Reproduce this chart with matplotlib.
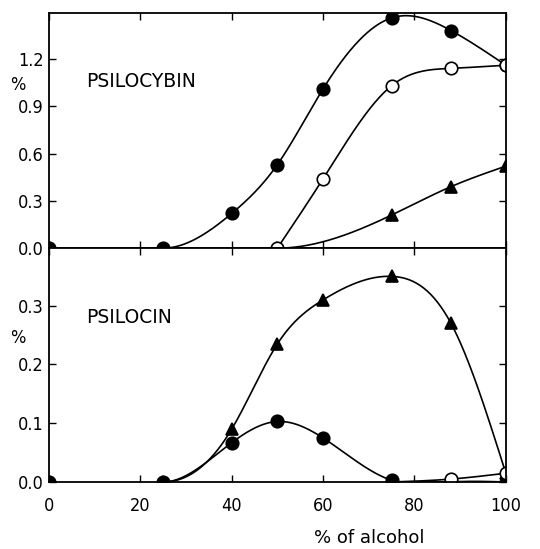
import numpy as np
import matplotlib
matplotlib.use('Agg')
from matplotlib import pyplot as plt

# Psilocybin (top panel)
ps_fill_x = [0, 25, 40, 50, 60, 75, 88, 100]
ps_fill_y = [0.0, 0.0, 0.22, 0.53, 1.01, 1.46, 1.38, 1.16]
ps_open_x = [50, 60, 75, 88, 100]
ps_open_y = [0.0, 0.44, 1.03, 1.14, 1.16]
ps_tri_x = [50, 75, 88, 100]
ps_tri_y = [0.0, 0.21, 0.39, 0.52]

# Psilocin (bottom panel)
pc_tri_x = [25, 40, 50, 60, 75, 88, 100]
pc_tri_y = [0.0, 0.09, 0.235, 0.31, 0.35, 0.27, 0.015]
pc_fill_x = [0, 25, 40, 50, 60, 75, 88, 100]
pc_fill_y = [0.0, 0.0, 0.067, 0.103, 0.075, 0.003, 0.0, 0.0]
pc_open_x = [75, 88, 100]
pc_open_y = [0.0, 0.005, 0.015]

x_ticks = [0, 20, 40, 60, 80, 100]
top_yticks = [0.0, 0.3, 0.6, 0.9, 1.2]
bot_yticks = [0.0, 0.1, 0.2, 0.3]

FONT = ['DejaVu Sans']
plt.rcParams['font.stretch'] = 'condensed'


def spline(x, y, d0=None, dn=None, n=300):
    # cubic spline, natural ends unless a slope is given
    x = np.asarray(x, float)
    y = np.asarray(y, float)
    N = len(x)
    h = np.diff(x)
    A = np.zeros((N, N))
    b = np.zeros(N)
    for i in range(1, N - 1):
        A[i, i - 1] = h[i - 1]
        A[i, i] = 2 * (h[i - 1] + h[i])
        A[i, i + 1] = h[i]
        b[i] = 6 * ((y[i + 1] - y[i]) / h[i] - (y[i] - y[i - 1]) / h[i - 1])
    if d0 is None:
        A[0, 0] = 1
    else:
        A[0, 0] = 2 * h[0]
        A[0, 1] = h[0]
        b[0] = 6 * ((y[1] - y[0]) / h[0] - d0)
    if dn is None:
        A[-1, -1] = 1
    else:
        A[-1, -2] = h[-1]
        A[-1, -1] = 2 * h[-1]
        b[-1] = 6 * (dn - (y[-1] - y[-2]) / h[-1])
    M = np.linalg.solve(A, b)
    xs = np.linspace(x[0], x[-1], n)
    i = np.clip(np.searchsorted(x, xs) - 1, 0, N - 2)
    t1 = x[i + 1] - xs
    t0 = xs - x[i]
    ys = (M[i] * t1 ** 3 + M[i + 1] * t0 ** 3) / (6 * h[i]) \
        + (y[i] / h[i] - M[i] * h[i] / 6) * t1 \
        + (y[i + 1] / h[i] - M[i + 1] * h[i] / 6) * t0
    return xs, ys


fig = plt.figure(figsize=(5.4, 5.49), dpi=100)
ax1 = fig.add_axes([0.0907, 0.548, 0.846, 0.428])
ax2 = fig.add_axes([0.0907, 0.122, 0.846, 0.426])

lw = 1.2
ms = 9


def marks(ax, x, y, m, face='black'):
    ln, = ax.plot(x, y, m, mfc=face, mec='black', mew=1.2, ms=ms)
    ln.set_clip_path(ax.patch)


# top curves
xs, ys = spline(ps_fill_x[1:], ps_fill_y[1:], d0=0)
ax1.plot(xs, ys, color='black', lw=lw)
xs, ys = spline(ps_open_x, ps_open_y)
ax1.plot(xs, ys, color='black', lw=lw)
xs, ys = spline(ps_tri_x, ps_tri_y, d0=0)
ax1.plot(xs, ys, color='black', lw=lw)
marks(ax1, ps_tri_x, ps_tri_y, '^')
marks(ax1, ps_fill_x, ps_fill_y, 'o')
marks(ax1, ps_open_x, ps_open_y, 'o', 'white')

# bottom curves
xs, ys = spline(pc_tri_x, pc_tri_y, d0=0)
ax2.plot(xs, ys, color='black', lw=lw)
xs, ys = spline(pc_fill_x[1:], pc_fill_y[1:], d0=0)
ax2.plot(xs, np.clip(ys, 0, None), color='black', lw=lw)
xs, ys = spline(pc_open_x, pc_open_y)
ax2.plot(xs, ys, color='black', lw=lw)
marks(ax2, pc_tri_x, pc_tri_y, '^')
marks(ax2, pc_fill_x, pc_fill_y, 'o')
marks(ax2, pc_open_x[1:], pc_open_y[1:], 'o', 'white')

ax1.set_ylim(0, 1.49)
ax2.set_ylim(0, 0.398)
ax1.set_yticks(top_yticks)
ax1.set_yticklabels(['0.0', '0.3', '0.6', '0.9', '1.2'])
ax2.set_yticks(bot_yticks)
ax2.set_yticklabels(['0.0', '0.1', '0.2', '0.3'])

for ax in (ax1, ax2):
    ax.set_xlim(0, 100)
    ax.set_xticks(x_ticks)
    ax.tick_params(direction='in', length=5, width=1, top=True, right=True,
                   labelsize=13)
    ax.tick_params(axis='y', pad=4)
    ax.tick_params(axis='x', pad=11)
    for s in ax.spines.values():
        s.set_linewidth(1.3)
    for lab in ax.get_xticklabels() + ax.get_yticklabels():
        lab.set_family(FONT)
        lab.set_stretch('condensed')

ax1.tick_params(labelbottom=False)
ax1.text(0.082, 0.71, 'PSILOCYBIN', transform=ax1.transAxes, fontsize=13.5,
         family=FONT, stretch='normal', va='center')
ax2.text(0.082, 0.705, 'PSILOCIN', transform=ax2.transAxes, fontsize=13.5,
         family=FONT, stretch='normal', va='center')
ax1.text(-0.068, 0.695, '%', transform=ax1.transAxes, fontsize=13,
         family=FONT, ha='center', va='center')
ax2.text(-0.068, 0.615, '%', transform=ax2.transAxes, fontsize=13,
         family=FONT, ha='center', va='center')
ax2.text(0.70, -0.24, '% of alcohol', transform=ax2.transAxes, fontsize=13,
         family=FONT, stretch='normal', ha='center', va='center')

fig.savefig('out.png', dpi=100)
